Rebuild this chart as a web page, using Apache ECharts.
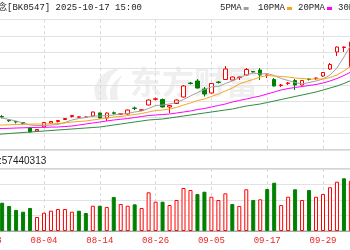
<!DOCTYPE html>
<html><head><meta charset="utf-8">
<script src="https://cdn.jsdelivr.net/npm/echarts@6/dist/echarts.min.js"></script>
<style>html,body{margin:0;padding:0;background:#fff}#c{width:350px;height:250px}</style>
</head><body><div id="c"></div>
<script>
const dates = ['07-23','07-24','07-25','07-28','07-29','07-30','07-31','08-01','08-04','08-05','08-06','08-07','08-08','08-11','08-12','08-13','08-14','08-15','08-18','08-19','08-20','08-21','08-22','08-25','08-26','08-27','08-28','08-29','09-01','09-02','09-03','09-04','09-05','09-08','09-09','09-10','09-11','09-12','09-15','09-16','09-17','09-18','09-19','09-22','09-23','09-24','09-25','09-26','09-29','09-30','10-09','10-10','10-13'];
const openP  = [1665,1655,1640,1605,1590,1580,1525,1495,1535,1575,1590,1610,1640,1633,1632,1645,1675,1625,1677,1662,1665,1725,1702,1755,1812,1810,1735,1770,1835,1975,1995,1915,1875,1985,2010,2005,2030,2055,2090,2105,2050,2010,1950,1970,2000,1955,2015,2020,2045,2115,2285,2330,2135];
const closeP = [1655,1645,1635,1598,1585,1570,1485,1510,1580,1590,1600,1620,1650,1637,1635,1685,1625,1675,1672,1667,1705,1720,1707,1805,1817,1735,1750,1805,1945,1970,1925,1865,1970,1980,2115,2035,2035,2110,2085,2055,2055,1945,1955,1975,1955,2000,2010,2025,2080,2160,2335,2335,2385];
const lowP   = [1645,1635,1620,1585,1570,1555,1480,1485,1530,1570,1580,1605,1630,1630,1630,1640,1620,1595,1660,1655,1660,1705,1695,1750,1800,1730,1675,1765,1830,1960,1920,1840,1870,1970,2005,2000,2005,2050,2080,2005,2025,1940,1935,1955,1905,1950,2000,2005,2035,2105,2245,2285,2125];
const highP  = [1675,1660,1655,1610,1595,1585,1530,1515,1585,1595,1605,1625,1655,1640,1637,1690,1680,1680,1690,1670,1710,1740,1710,1810,1830,1820,1755,1810,1955,1985,2015,1935,1975,1995,2145,2040,2040,2125,2095,2125,2060,2025,1965,1985,2015,2005,2025,2030,2085,2175,2340,2340,2395];
const ma5  = [1655,1645,1625,1610,1595,1575,1555,1550,1550,1555,1560,1580,1605,1620,1630,1645,1645,1650,1655,1665,1670,1685,1695,1720,1750,1755,1765,1780,1810,1845,1880,1910,1935,1940,1970,1995,2030,2055,2075,2065,2070,2050,2020,2000,1980,1965,1980,1995,2015,2055,2125,2235,2355];
const ma10 = [1550,1552,1555,1557,1560,1562,1563,1565,1565,1567,1570,1575,1585,1590,1595,1605,1615,1625,1635,1640,1650,1660,1670,1685,1700,1705,1715,1730,1755,1775,1800,1815,1840,1865,1895,1925,1965,1990,2010,2035,2050,2045,2040,2035,2025,2020,2015,2015,2015,2030,2055,2095,2145];
const ma20 = [1515,1518,1520,1522,1525,1527,1529,1531,1532,1534,1535,1540,1545,1555,1565,1575,1585,1595,1605,1612,1620,1630,1640,1650,1655,1660,1665,1675,1685,1695,1710,1720,1735,1750,1765,1785,1800,1815,1830,1845,1865,1885,1905,1920,1930,1940,1950,1960,1975,1995,2020,2050,2085];
const ma30 = [1450,1455,1465,1470,1475,1480,1485,1490,1495,1500,1505,1510,1515,1520,1525,1530,1535,1545,1555,1565,1575,1585,1595,1605,1610,1615,1625,1635,1645,1655,1665,1675,1685,1695,1705,1715,1730,1745,1755,1765,1780,1795,1810,1825,1840,1855,1870,1885,1905,1925,1945,1970,2000];
const volume = [32000000,30000000,36500000,32300000,27100000,24900000,29700000,18100000,23600000,26200000,28400000,28400000,24900000,26200000,23200000,32600000,32600000,31000000,43900000,34800000,32600000,34400000,29700000,49900000,37800000,37800000,33500000,40000000,55500000,52900000,47700000,50700000,44200000,40000000,48600000,34800000,32300000,53800000,40000000,40900000,54200000,62300000,33500000,44200000,53800000,40000000,52900000,44200000,47700000,56400000,63600000,68000000,64900000];
const volDir = [-1,-1,-1,-1,-1,-1,-1,1,1,1,1,1,1,-1,-1,1,-1,1,-1,1,1,-1,1,1,1,-1,1,1,1,1,-1,-1,1,1,1,-1,1,1,-1,1,-1,-1,1,1,-1,1,-1,1,1,1,1,-1,1];
const maNames = ['5PMA','10PMA','20PMA','30PMA'];
const maColors = ['#a0a0a0','#f5a623','#ff00ff','#2e8b3e'];
const titleText = '念[BK0547] 2025-10-17 15:00';
const volLabel = ':57440313';

const RED = '#ff0000', GREEN = '#008000';
const chart = echarts.init(document.getElementById('c'), null, {renderer: 'canvas'});
const candles = dates.map((d, i) => [openP[i], closeP[i], lowP[i], highP[i]]);
const maData = [ma5, ma10, ma20, ma30];
const gridLeft = -11.8, gridWidth = 362.7;
const mono = "'Liberation Mono','Noto Sans CJK SC',monospace";

const legendX = [220, 258, 298, 338];
const graphics = [
  {type: 'text', x: -2, y: 3, style: {text: titleText, font: '9px ' + mono, fill: '#222'}},
  {type: 'text', x: -1, y: 156, style: {text: volLabel, font: "10px 'Liberation Sans',Arial,sans-serif", fill: '#222'}},
  {type: 'text', x: 130, y: 66, z: -10, style: {text: '东方财富', font: "bold 32px 'Noto Sans CJK SC'", fill: '#efefef'}},
  {type: 'polygon', z: -10, shape: {points: [[96,100],[94,88],[99,78],[108,71],[121,67],[112,75],[107,84],[106,92],[108,100]]}, style: {fill: '#efefef'}},
  {type: 'polygon', z: -10, shape: {points: [[110,100],[110,90],[114,82],[122,75],[118,84],[117,92],[118,100]]}, style: {fill: '#efefef'}}
];
maNames.forEach((n, k) => {
  graphics.push({type: 'text', x: legendX[k], y: 3, style: {text: n, font: '9px ' + mono, fill: '#222'}});
  graphics.push({type: 'rect', shape: {x: legendX[k] + n.length * 5.4 + 2, y: 7, width: 5, height: 3}, style: {fill: maColors[k]}});
});

const option = {
  animation: false,
  backgroundColor: '#fff',
  graphic: graphics,
  grid: [
    {left: gridLeft, width: gridWidth, top: 19.5, height: 130.5, show: true, borderColor: '#a8a8a8', borderWidth: 1, containLabel: false, outerBoundsMode: 'none'},
    {left: gridLeft, width: gridWidth, top: 169, height: 62, show: true, borderColor: '#a8a8a8', borderWidth: 1, containLabel: false, outerBoundsMode: 'none'}
  ],
  xAxis: [
    {type: 'category', gridIndex: 0, data: dates, boundaryGap: false,
     axisLine: {show: false}, axisTick: {show: false}, axisLabel: {show: false},
     splitLine: {show: true, interval: 7, lineStyle: {color: '#d8d8d8', type: [3, 3]}}},
    {type: 'category', gridIndex: 1, data: dates, boundaryGap: false,
     axisLine: {show: true, lineStyle: {color: '#a8a8a8'}}, axisTick: {show: false},
     axisLabel: {show: true, interval: 7, color: '#ee2222', fontFamily: mono, fontSize: 9, margin: 5},
     splitLine: {show: true, interval: 7, lineStyle: {color: '#d8d8d8', type: [3, 3]}}}
  ],
  yAxis: [
    {type: 'value', gridIndex: 0, min: 1305, max: 2610, interval: 163.125,
     axisLine: {show: false}, axisTick: {show: false}, axisLabel: {show: false},
     splitLine: {lineStyle: {color: '#e2e2e2'}}},
    {type: 'value', gridIndex: 1, min: 0, max: 80000000, interval: 20000000,
     axisLine: {show: false}, axisTick: {show: false}, axisLabel: {show: false},
     splitLine: {lineStyle: {color: '#e2e2e2'}}}
  ],
  series: [
    {type: 'candlestick', xAxisIndex: 0, yAxisIndex: 0, data: candles, barWidth: 4,
     itemStyle: {color: '#fff', color0: GREEN, borderColor: RED, borderColor0: GREEN, borderWidth: 1}},
    ...maNames.map((n, k) => ({type: 'line', name: n, xAxisIndex: 0, yAxisIndex: 0, data: maData[k],
      showSymbol: false, symbol: 'none', lineStyle: {color: maColors[k], width: 1}, z: 3})),
    {type: 'bar', xAxisIndex: 1, yAxisIndex: 1, barWidth: 4,
     data: volume.map((v, i) => ({value: v, itemStyle: volDir[i] > 0
       ? {color: '#fff', borderColor: RED, borderWidth: 1}
       : {color: GREEN, borderColor: GREEN, borderWidth: 1}}))}
  ]
};
chart.setOption(option);
</script></body></html>
